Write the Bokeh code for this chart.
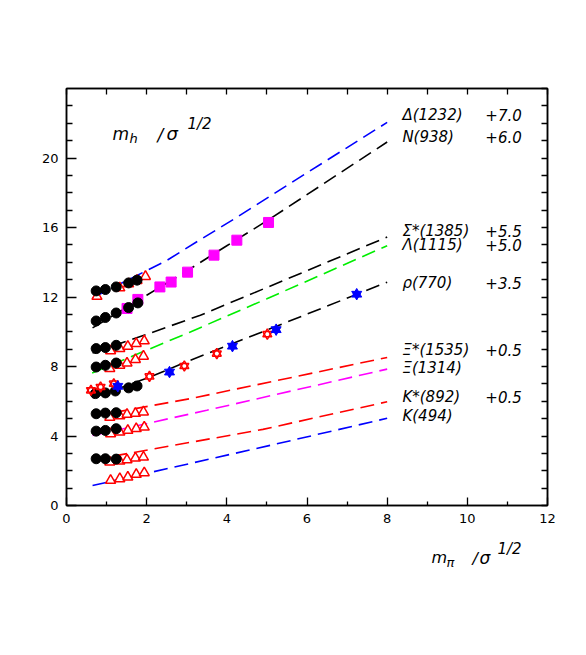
from bokeh.plotting import figure
from bokeh.layouts import column
from bokeh.models import Label, LinearAxis, FixedTicker, Range1d
from bokeh.core.properties import value
from bokeh.embed import file_html
from bokeh.resources import INLINE

# ---------------- data ----------------
# fitted curves (dashed)
delta_fit_x = [0.65, 1.55, 2.5, 3.3, 4.17, 6.0, 8.0]
delta_fit_y = [11.95, 13.0, 14.1, 15.25, 16.47, 19.15, 22.05]
n_fit_x = [0.65, 2.0, 3.0, 4.0, 5.08, 8.0]
n_fit_y = [10.22, 12.1, 13.5, 14.95, 16.5, 20.92]
sigma_fit_x = [0.65, 2.0, 3.34, 5.0, 8.0]
sigma_fit_y = [8.78, 9.85, 10.95, 12.55, 15.45]
lambda_fit_x = [0.64, 3.09, 5.0, 8.0]
lambda_fit_y = [7.63, 9.99, 11.9, 14.95]
rho_fit_x = [0.65, 2.07, 3.09, 5.0, 8.0]
rho_fit_y = [6.2, 7.38, 8.36, 10.1, 12.85]
xistar_fit_x = [0.65, 3.09, 8.0]
xistar_fit_y = [5.13, 6.15, 8.52]
xi_fit_x = [0.65, 3.5, 8.0]
xi_fit_y = [4.03, 5.48, 7.85]
kstar_fit_x = [0.65, 4.9, 8.0]
kstar_fit_y = [2.63, 4.38, 5.97]
k_fit_x = [0.65, 5.08, 8.0]
k_fit_y = [1.15, 3.46, 5.02]

# black filled circles
delta_circ_x = [0.74, 0.97, 1.24, 1.55, 1.76]
delta_circ_y = [12.35, 12.43, 12.58, 12.81, 12.97]
n_circ_x = [0.74, 0.97, 1.24, 1.55, 1.78]
n_circ_y = [10.62, 10.82, 11.08, 11.39, 11.66]
sigma_circ_x = [0.74, 0.97, 1.24]
sigma_circ_y = [9.03, 9.09, 9.22]
lambda_circ_x = [0.74, 0.97, 1.24]
lambda_circ_y = [7.97, 8.07, 8.2]
rho_circ_x = [0.72, 0.97, 1.22, 1.55, 1.76]
rho_circ_y = [6.44, 6.48, 6.59, 6.77, 6.88]
xistar_circ_x = [0.74, 0.97, 1.24]
xistar_circ_y = [5.28, 5.32, 5.34]
xi_circ_x = [0.74, 0.97, 1.24]
xi_circ_y = [4.28, 4.32, 4.42]
kstar_circ_x = [0.74, 0.97, 1.24]
kstar_circ_y = [2.69, 2.69, 2.67]

# red open triangles
delta_tri_x = [0.76, 1.33, 1.55, 1.76, 1.97]
delta_tri_y = [12.03, 12.52, 12.75, 12.95, 13.18]
sigma_tri_x = [1.1, 1.33, 1.53, 1.74, 1.94]
sigma_tri_y = [8.9, 9.03, 9.16, 9.32, 9.47]
lambda_tri_x = [1.08, 1.33, 1.51, 1.72, 1.92]
lambda_tri_y = [7.88, 8.07, 8.2, 8.4, 8.59]
xistar_tri_x = [1.08, 1.33, 1.51, 1.72, 1.92]
xistar_tri_y = [5.07, 5.16, 5.24, 5.3, 5.38]
xi_tri_x = [1.1, 1.33, 1.53, 1.74, 1.94]
xi_tri_y = [4.13, 4.22, 4.32, 4.42, 4.51]
kstar_tri_x = [1.08, 1.33, 1.51, 1.72, 1.92]
kstar_tri_y = [2.5, 2.55, 2.63, 2.73, 2.78]
k_tri_x = [1.1, 1.33, 1.53, 1.74, 1.94]
k_tri_y = [1.44, 1.54, 1.63, 1.79, 1.88]

# magenta squares (N)
n_sq_x = [1.51, 1.78, 2.33, 2.61, 3.02, 3.68, 4.25, 5.04]
n_sq_y = [11.34, 11.86, 12.58, 12.86, 13.43, 14.41, 15.27, 16.29]

# rho stars
rho_open_star_x = [0.61, 0.85, 1.18, 2.07, 2.94, 3.75, 5.01]
rho_open_star_y = [6.63, 6.82, 7.01, 7.43, 8.03, 8.74, 9.86]
rho_full_star_x = [1.28, 2.57, 4.14, 5.23, 7.24]
rho_full_star_y = [6.86, 7.68, 9.17, 10.12, 12.16]

# curve labels
label_names = ["Δ(1232)", "N(938)", "Σ*(1385)", "Λ(1115)", "ρ(770)",
               "Ξ*(1535)", "Ξ(1314)", "K*(892)", "K(494)"]
label_shifts = ["+7.0", "+6.0", "+5.5", "+5.0", "+3.5", "+0.5", "", "+0.5", ""]
label_y = [22.48, 21.23, 15.81, 14.99, 12.81, 8.93, 7.91, 6.24, 5.13]
label_name_x = 8.38
label_shift_x = 10.45

x_major_ticks = [0, 2, 4, 6, 8, 10, 12]
x_minor_ticks = [1, 3, 5, 7, 9, 11]
y_major_ticks = [0, 4, 8, 12, 16, 20]
y_minor_ticks = [1, 2, 3, 5, 6, 7, 9, 10, 11, 13, 14, 15, 17, 18, 19, 21, 22, 23]

# ---------------- main figure ----------------
W = 578
p = figure(width=W, height=540, x_range=Range1d(0, 12), y_range=Range1d(0, 24),
           output_backend="svg", toolbar_location=None,
           min_border_left=66, min_border_right=31, min_border_top=88, min_border_bottom=35)
p.xgrid.visible = False
p.ygrid.visible = False
p.outline_line_color = "black"
p.outline_line_width = 1.5
p.background_fill_color = "white"
p.border_fill_color = "white"

def style_axis(ax, maj, mnr):
    ax.major_tick_in = maj
    ax.major_tick_out = 0
    ax.minor_tick_in = mnr
    ax.minor_tick_out = 0
    ax.axis_line_width = 1.5
    ax.axis_line_color = "black"
    ax.major_tick_line_width = 1.3
    ax.minor_tick_line_width = 1.3
    ax.major_tick_line_color = "black"
    ax.minor_tick_line_color = "black"
    ax.major_label_text_font = "DejaVu Sans"
    ax.major_label_text_color = "black"
    ax.major_label_text_font_size = "13px"
    ax.major_label_standoff = 8

p.xaxis[0].ticker = FixedTicker(ticks=x_major_ticks, minor_ticks=x_minor_ticks)
p.yaxis[0].ticker = FixedTicker(ticks=y_major_ticks, minor_ticks=y_minor_ticks)
style_axis(p.xaxis[0], 8, 4)
style_axis(p.yaxis[0], 10, 6)

# top / right frame ticks without labels (ticks given as minor ticks only)
top = LinearAxis(ticker=FixedTicker(ticks=[], minor_ticks=x_major_ticks + x_minor_ticks))
right = LinearAxis(ticker=FixedTicker(ticks=[], minor_ticks=y_major_ticks + y_minor_ticks + [24]))
style_axis(top, 8, 6)
style_axis(right, 8, 6)
for ax in (top, right):
    ax.major_label_standoff = 0
p.add_layout(top, "above")
p.add_layout(right, "right")

dash = "14 7"
fits = [
    (delta_fit_x, delta_fit_y, "#0000ff"),
    (n_fit_x, n_fit_y, "black"),
    (sigma_fit_x, sigma_fit_y, "black"),
    (lambda_fit_x, lambda_fit_y, "#00ee00"),
    (rho_fit_x, rho_fit_y, "black"),
    (xistar_fit_x, xistar_fit_y, "#ff0000"),
    (xi_fit_x, xi_fit_y, "#ff00ff"),
    (kstar_fit_x, kstar_fit_y, "#ff0000"),
    (k_fit_x, k_fit_y, "#0000ff"),
]
for fx, fy, c in fits:
    p.line(fx, fy, line_color=c, line_width=1.6, line_dash=dash)

tri_x = delta_tri_x + sigma_tri_x + lambda_tri_x + xistar_tri_x + xi_tri_x + kstar_tri_x + k_tri_x
tri_y = delta_tri_y + sigma_tri_y + lambda_tri_y + xistar_tri_y + xi_tri_y + kstar_tri_y + k_tri_y
p.scatter(tri_x, tri_y, marker="triangle", size=10, fill_color="white",
          line_color="#ff0000", line_width=1.5)

p.scatter(n_sq_x, n_sq_y, marker="square", size=10, fill_color="#ff00ff", line_color="#ff00ff")

circ_x = delta_circ_x + n_circ_x + sigma_circ_x + lambda_circ_x + rho_circ_x + xistar_circ_x + xi_circ_x + kstar_circ_x
circ_y = delta_circ_y + n_circ_y + sigma_circ_y + lambda_circ_y + rho_circ_y + xistar_circ_y + xi_circ_y + kstar_circ_y
p.scatter(circ_x, circ_y, marker="circle", size=10, fill_color="black", line_color="black")

for m in ("triangle", "inverted_triangle"):
    p.scatter(rho_open_star_x, rho_open_star_y, marker=m, size=9, fill_color=None,
              line_color="#ff0000", line_width=1.5)
for m in ("triangle", "inverted_triangle"):
    p.scatter(rho_full_star_x, rho_full_star_y, marker=m, size=10, fill_color="#0000ff",
              line_color="#0000ff", line_width=1)

p.text(x=[label_name_x] * len(label_names), y=label_y, text=label_names,
       text_font=value("DejaVu Sans"), text_font_style="italic", text_font_size="15px",
       text_baseline="middle", text_align="left", text_color="black")
p.text(x=[label_shift_x] * len(label_shifts), y=label_y, text=label_shifts,
       text_font=value("DejaVu Sans"), text_font_style="italic", text_font_size="15px",
       text_baseline="middle", text_align="left", text_color="black")

# axis titles: page pixel -> data coords, only for placing the titles
def dx(px):
    return (px - 66) / 40.083

def dy(py):
    return (505 - py) / 17.375

def put(px, py, txt, size):
    p.add_layout(Label(x=dx(px), y=dy(py), text=txt, text_font="DejaVu Sans",
                       text_font_style="italic", text_font_size=size,
                       text_baseline="alphabetic", text_align="left", text_color="black"))

# y title (inside the frame, top-left)
put(112, 133, "m", "17px")
put(129, 138, "h", "13px")
put(157, 134, "/", "17px")
put(166, 133, "σ", "18px")
put(187, 123, "1/2", "15px")

# ---------------- strip below holding the x title ----------------
q = figure(width=W, height=60, x_range=Range1d(0, 12), y_range=Range1d(60, 0),
           output_backend="svg", toolbar_location=None,
           x_axis_location=None, y_axis_location=None,
           min_border_left=66, min_border_right=31, min_border_top=0, min_border_bottom=0)
q.xgrid.visible = False
q.ygrid.visible = False
q.outline_line_color = None
q.background_fill_color = "white"
q.border_fill_color = "white"

def put_q(px, py, txt, size):
    q.text(x=[dx(px)], y=[py - 540], text=[txt], text_font=value("DejaVu Sans"),
           text_font_style="italic", text_font_size=size,
           text_baseline="alphabetic", text_align="left", text_color="black")

put_q(431, 557, "m", "16px")
put_q(446, 562, "π", "13px")
put_q(472, 558, "/", "16px")
put_q(479, 557, "σ", "17px")
put_q(497, 548, "1/2", "15px")

layout = column(p, q, spacing=0)
open("out.html", "w").write(file_html(layout, INLINE))
